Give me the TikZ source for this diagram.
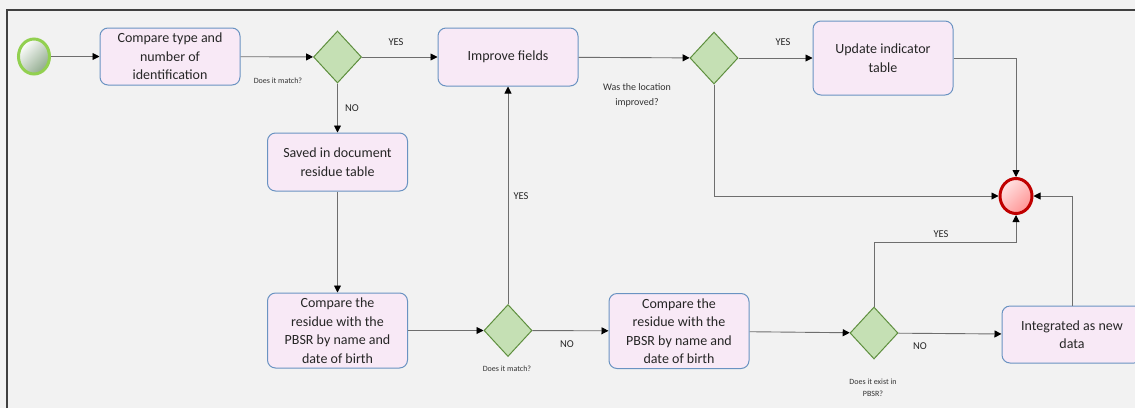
\documentclass[tikz,border=0pt]{standalone}
\usepackage{fontspec}
\setmainfont{Carlito}
\usetikzlibrary{shapes.geometric,arrows.meta}
\definecolor{bgc}{HTML}{F2F2F2}
\definecolor{boxfill}{HTML}{F8E9F6}
\definecolor{boxline}{HTML}{6A93C2}
\definecolor{decfill}{HTML}{C5E0B4}
\definecolor{decline}{HTML}{5E8F3E}
\definecolor{linec}{HTML}{6E6E6E}
\definecolor{startline}{HTML}{92D050}
\definecolor{startshade}{HTML}{8FAA8C}
\definecolor{endline}{HTML}{C00000}
\definecolor{endlight}{HTML}{FFE3E3}
\definecolor{endshade}{HTML}{FF9494}
\definecolor{framec}{HTML}{404040}
\begin{document}
\begin{tikzpicture}[x=1pt,y=-1pt,
    task/.style={draw=boxline, line width=1pt, fill=boxfill, rounded corners=8pt,
      minimum width=140pt, align=center, inner sep=0pt, text=black!85,
      font=\fontsize{14}{18.5}\selectfont},
    gate/.style={diamond, draw=decline, line width=1pt, fill=decfill,
      minimum width=48pt, minimum height=52pt, inner sep=0pt},
    note/.style={font=\fontsize{8}{11.5}\selectfont, align=center, text=black!80},
    answer/.style={font=\fontsize{10.5}{12}\selectfont, text=black!85},
    flow/.style={draw=linec, line width=0.9pt,
      -{Triangle[length=7pt,width=7pt,color=black]}}]
  \fill[bgc] (0,0) rectangle (1135,408);
  \useasboundingbox (0,0) rectangle (1135,408);
  \draw[framec, line width=1.6pt] (7,408) -- (7,10) -- (1135,10);

  \node[ellipse, minimum width=31pt, minimum height=35pt, draw=startline, line width=3pt,
    top color=white, bottom color=startshade, shading angle=45] (start) at (34,56.5) {};
  \node[ellipse, minimum width=32pt, minimum height=35pt, draw=endline, line width=3pt,
    top color=endlight, bottom color=endshade, shading angle=45] (end) at (1016,196) {};

  \node[task, minimum height=57pt] (cmp) at (170,56.5) {Compare type and\\number of\\identification};
  \node[gate] (match) at (337.5,57) {};
  \node[task, minimum height=58pt] (improve) at (508,57) {Improve fields};
  \node[gate] (located) at (714,58) {};
  \node[task, minimum height=74pt] (update) at (883,58) {Update indicator\\table};
  \node[task, minimum height=58pt] (saved) at (337.5,162) {Saved in document\\residue table};
  \node[task, minimum height=75pt] (residue) at (337.5,330.5) {Compare the\\residue with the\\PBSR by name and\\date of birth};
  \node[gate] (rematch) at (508,330.5) {};
  \node[task, minimum height=75pt] (residueb) at (679,331) {Compare the\\residue with the\\PBSR by name and\\date of birth};
  \node[gate] (exists) at (874,333) {};
  \node[task, minimum height=57pt] (newdata) at (1072,334.5) {Integrated as new\\data};

  \node[note] (q1) at (278,81) {Does it match?};
  \node[answer] (y1) at (396,42) {YES};
  \node[answer] (n1) at (352,108) {NO};
  \node[note, font=\fontsize{10}{15}\selectfont] (q2) at (637,95) {Was the location\\improved?};
  \node[answer] (y2) at (783,42) {YES};
  \node[answer] (y3) at (521,196) {YES};
  \node[note] (q3) at (507,369) {Does it match?};
  \node[answer] (n2) at (567,344) {NO};
  \node[answer] (y4) at (941,234) {YES};
  \node[answer] (n3) at (920,346) {NO};
  \node[note] (q4) at (873,388) {Does it exist in\\PBSR?};
  \coordinate (turn) at (874,242);

  \begin{scope}[flow]
    \draw (start) -- (cmp);
    \draw (cmp) -- (match);
    \draw (match) -- (improve);
    \draw (improve) -- (located);
    \draw (located) -- (update);
    \draw (update.east) -| (end);
    \draw (located.south) |- (end);
    \draw (match) -- (saved);
    \draw (saved) -- (residue);
    \draw (residue) -- (rematch);
    \draw (rematch) -- (improve);
    \draw (rematch) -- (residueb);
    \draw (residueb) -- (exists);
    \draw (exists) -- (newdata);
    \draw (exists.north) -- (turn) -| (end);
    \draw (newdata.north) |- (end);
  \end{scope}
\end{tikzpicture}
\end{document}
